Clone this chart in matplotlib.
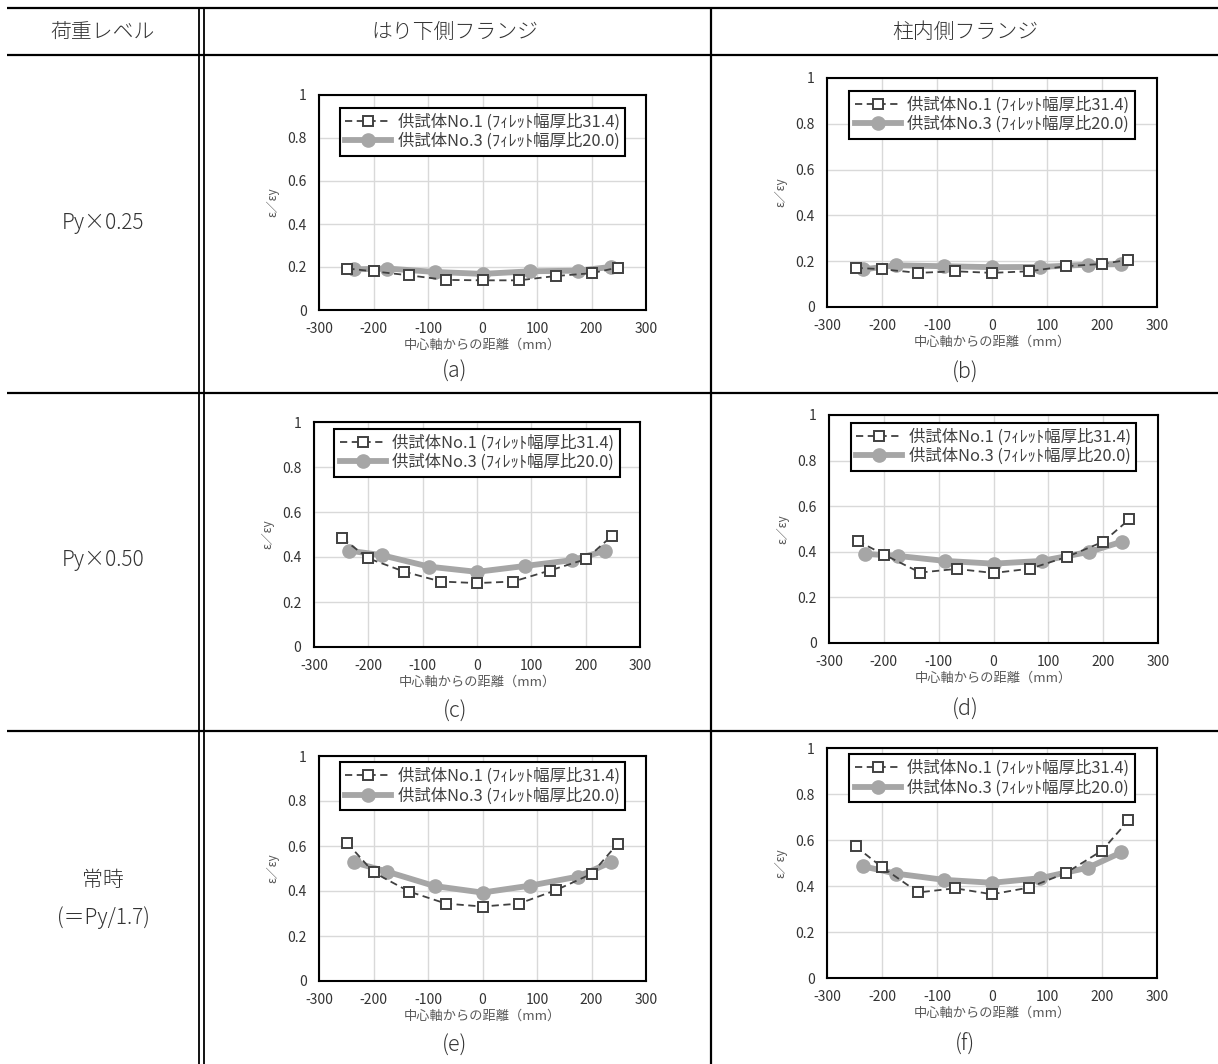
import matplotlib
matplotlib.use("Agg")
import matplotlib.pyplot as plt
from matplotlib.lines import Line2D

plt.rcParams['font.family'] = ['Noto Sans CJK JP', 'DejaVu Sans']
plt.rcParams['axes.unicode_minus'] = False

# ---------------- data ----------------
header_labels = ["荷重レベル", "はり下側フランジ", "柱内側フランジ"]
row_labels = ["Py×0.25", "Py×0.50", "常時\n(＝Py/1.7)"]
panel_tags = ["(a)", "(b)", "(c)", "(d)", "(e)", "(f)"]
series_names = ["供試体No.1 (ﾌｨﾚｯﾄ幅厚比31.4)", "供試体No.3 (ﾌｨﾚｯﾄ幅厚比20.0)"]
x_label = "中心軸からの距離（mm）"
y_label = "ε／εy"

x_no1 = [-248, -200, -134, -67, 0, 67, 134, 200, 248]
x_no3 = [-235, -175, -88, 0, 88, 175, 235]

a_no1 = [0.193, 0.180, 0.161, 0.140, 0.138, 0.138, 0.158, 0.171, 0.197]
a_no3 = [0.189, 0.193, 0.177, 0.168, 0.180, 0.183, 0.200]
b_no1 = [0.171, 0.165, 0.149, 0.156, 0.149, 0.156, 0.178, 0.188, 0.206]
b_no3 = [0.164, 0.182, 0.178, 0.174, 0.175, 0.185, 0.187]
c_no1 = [0.483, 0.394, 0.335, 0.291, 0.284, 0.291, 0.340, 0.390, 0.493]
c_no3 = [0.428, 0.408, 0.357, 0.334, 0.360, 0.386, 0.427]
d_no1 = [0.448, 0.388, 0.309, 0.325, 0.307, 0.326, 0.378, 0.444, 0.543]
d_no3 = [0.391, 0.382, 0.360, 0.348, 0.360, 0.400, 0.445]
e_no1 = [0.613, 0.483, 0.397, 0.344, 0.331, 0.344, 0.403, 0.476, 0.610]
e_no3 = [0.527, 0.486, 0.422, 0.393, 0.424, 0.464, 0.527]
f_no1 = [0.572, 0.482, 0.372, 0.390, 0.364, 0.393, 0.456, 0.554, 0.685]
f_no3 = [0.486, 0.454, 0.427, 0.414, 0.434, 0.480, 0.546]

x_ticks = [-300, -200, -100, 0, 100, 200, 300]
y_ticks = [0, 0.2, 0.4, 0.6, 0.8, 1]
y_tick_labels = ["0", "0.2", "0.4", "0.6", "0.8", "1"]

panels = [(a_no1, a_no3), (b_no1, b_no3), (c_no1, c_no3),
          (d_no1, d_no3), (e_no1, e_no3), (f_no1, f_no3)]

# ---------------- layout ----------------
W, H = 1218, 1064
fig = plt.figure(figsize=(W / 100, H / 100), dpi=100)
fig.patch.set_facecolor("white")

def fx(x):
    return x / W

def fy(y):
    return 1 - y / H

def hline(y, x0, x1, lw=1.6):
    fig.add_artist(Line2D([fx(x0), fx(x1)], [fy(y), fy(y)], color="black", lw=lw,
                          transform=fig.transFigure, solid_capstyle="butt"))

def vline(x, y0, y1, lw=1.6):
    fig.add_artist(Line2D([fx(x), fx(x)], [fy(y0), fy(y1)], color="black", lw=lw,
                          transform=fig.transFigure, solid_capstyle="butt"))

# table lines
for yy in [8, 55, 393, 731]:
    hline(yy, 7, W)
vline(199, 8, H, lw=1.3)
vline(203.5, 8, H, lw=1.3)
vline(711, 8, H, lw=1.6)

# header text
hdr_font = 15
txt_kw = dict(ha="center", va="center", fontsize=hdr_font, color="#333333", fontweight="light")
fig.text(fx(103), fy(32), header_labels[0], **txt_kw)
fig.text(fx(455), fy(32), header_labels[1], **txt_kw)
fig.text(fx(965), fy(32), header_labels[2], **txt_kw)

# row labels
fig.text(fx(103), fy(223), row_labels[0], **txt_kw)
fig.text(fx(103), fy(560), row_labels[1], **txt_kw)
rl3 = row_labels[2].split("\n")
fig.text(fx(103), fy(880), rl3[0], **txt_kw)
fig.text(fx(103), fy(918), rl3[1], **txt_kw)

# axes boxes in pixels: left, top, right, bottom
boxes = [(319, 95, 646, 310), (827, 78, 1157, 307),
         (314, 422, 640, 647), (829, 415, 1158, 643),
         (319, 756, 646, 981), (827, 748, 1157, 978)]
legend_top = [0.941, 0.944, 0.971, 0.966, 0.973, 0.973]
tag_pos = [(455, 372), (965, 373), (455, 712), (965, 710), (455, 1046), (965, 1045)]

for i, ((no1, no3), (l, t, r, b)) in enumerate(zip(panels, boxes)):
    ax = fig.add_axes([fx(l), fy(b), (r - l) / W, (b - t) / H])
    ax.plot(x_no3, no3, color="#a6a6a6", lw=4.2, marker="o", markersize=9.5,
            markerfacecolor="#a6a6a6", markeredgecolor="#a6a6a6", zorder=3,
            label=series_names[1])
    ax.plot(x_no1, no1, color="#404040", lw=1.3, ls=(0, (4, 2.5)), marker="s", markersize=7,
            markerfacecolor="white", markeredgecolor="#404040", markeredgewidth=1.4, zorder=4,
            label=series_names[0])
    ax.set_xlim(-300, 300)
    ax.set_ylim(0, 1)
    ax.set_xticks(x_ticks)
    ax.set_yticks(y_ticks)
    ax.set_yticklabels(y_tick_labels)
    ax.grid(True, color="#d9d9d9", lw=1.0, zorder=0)
    ax.set_axisbelow(True)
    for sp in ax.spines.values():
        sp.set_color("black")
        sp.set_linewidth(1.5)
    ax.tick_params(length=0, labelsize=10, colors="#333333", pad=8.5)
    ax.tick_params(axis="y", pad=9)
    h = b - t
    w = r - l
    ax.set_xlabel(x_label, fontsize=9.5, color="#595959")
    ax.xaxis.set_label_coords(0.5, -35 / h)
    ax.xaxis.label.set_va("center")
    ax.set_ylabel(y_label, fontsize=8.5, color="#595959")
    ax.yaxis.set_label_coords(-46 / w, 0.5)
    ax.yaxis.label.set_va("center")
    handles, labels = ax.get_legend_handles_labels()
    leg = ax.legend(handles[::-1], labels[::-1], loc="upper center",
                    bbox_to_anchor=(0.5, legend_top[i]), fontsize=11.8,
                    fancybox=False, framealpha=1, edgecolor="black",
                    handlelength=2.8, labelspacing=0.12, borderpad=0.35,
                    handletextpad=0.4, borderaxespad=0)
    leg.get_frame().set_linewidth(1.5)
    for txt in leg.get_texts():
        txt.set_color("#404040")
    tx, ty = tag_pos[i]
    fig.text(fx(tx), fy(ty), panel_tags[i], ha="center", va="center", fontsize=15.5,
             color="#333333", fontweight="light")

fig.savefig("out.png", dpi=100, facecolor="white")
